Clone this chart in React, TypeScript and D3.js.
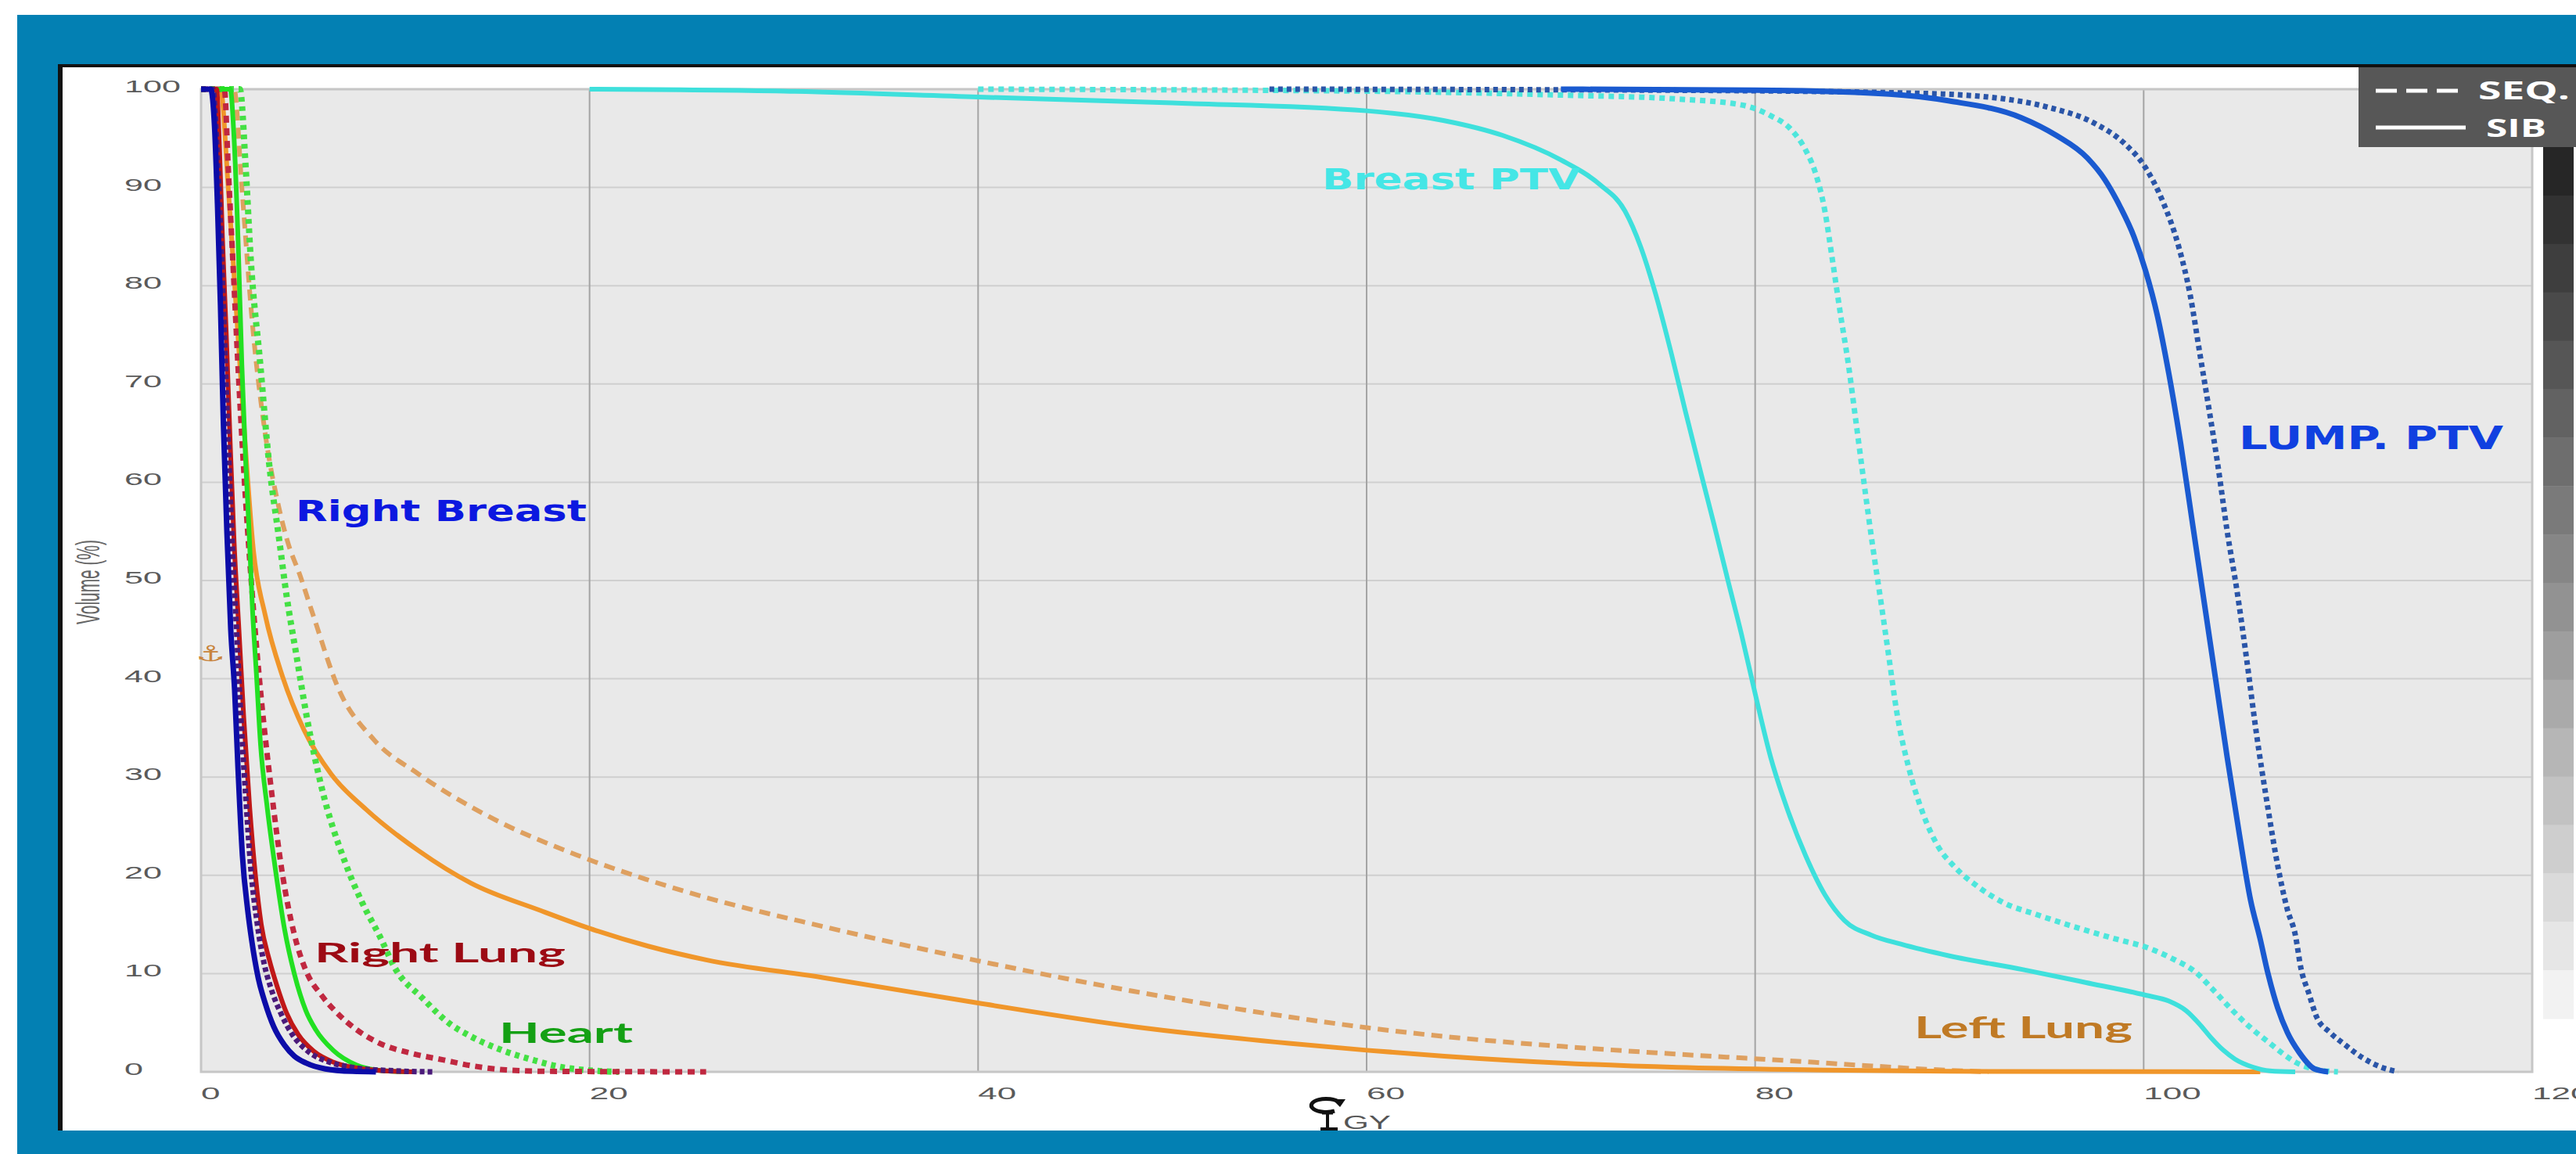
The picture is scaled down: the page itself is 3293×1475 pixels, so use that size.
import React from 'react'
import * as d3 from 'd3'

// dose (Gy) / volume (%) pairs
const breastPtvSib = [[20,100],[30,99.8],[40,99.2],[50,98.6],[60,97.8],[64,96.8],[67,95.3],[70,92.8],[72,90.3],[73.3,87.6],[74.1,84],[74.9,79],[75.7,73],[76.4,67.3],[77.2,61],[77.9,55.6],[78.6,50],[79.3,44.5],[80,38.5],[80.8,32],[81.7,26.5],[82.6,22],[83.6,18],[84.6,15.4],[86,13.9],[87.5,13],[90,11.8],[93.8,10.4],[97,9.1],[100.1,7.8],[101.3,7.2],[102.2,6.2],[102.9,4.8],[103.5,3.4],[104.1,2.2],[104.7,1.3],[105.6,0.5],[106.5,0.1],[107.8,0]]
const breastPtvSeq = [[40,100],[60,99.8],[70,99.4],[76,99],[79.3,98.4],[80.8,97.3],[81.8,96],[82.6,93.8],[83.1,91.5],[83.6,87.5],[83.95,83],[84.4,77],[84.8,72],[85.2,66],[85.6,60],[86.05,53.5],[86.5,47.5],[86.9,42],[87.3,36.5],[87.9,31],[88.6,26.5],[89.4,23],[90.3,20.8],[91.5,18.8],[92.8,17.2],[94.5,16],[96.2,14.9],[98.6,13.5],[100.1,12.7],[101.4,11.6],[102.7,10.1],[103.6,8.3],[104.5,6.4],[105.5,4.5],[106.5,2.9],[107.2,1.8],[107.8,1],[109,0.2],[110,0]]
const lumpPtvSib = [[70,100],[80,99.9],[86.9,99.5],[90,98.8],[93.7,97.1],[95.5,95.3],[97.1,93],[98,90.8],[98.8,88],[99.5,85],[100.1,81.5],[100.7,77],[101.3,71],[101.9,64],[102.5,56],[103.1,48],[103.7,40],[104.3,32],[104.9,24.5],[105.5,17.5],[106,13.5],[106.4,10],[106.9,6.5],[107.4,4],[108,2],[108.8,0.3],[109.5,0]]
const lumpPtvSeq = [[55,100],[75,99.9],[88,99.6],[92,99.2],[95,98.2],[97.5,96.5],[99,94.5],[100.1,92],[101,88.5],[101.8,84],[102.4,79],[102.9,73],[103.4,67],[103.8,62],[104.3,55],[104.8,49],[105.3,42],[105.8,34.5],[106.4,26.8],[106.9,21],[107.4,16.5],[107.8,14],[108.1,10.5],[108.5,8],[108.9,5.6],[109.6,4],[110.4,2.7],[111.3,1.4],[112.2,0.5],[113.1,0]]
const rightBreastSib = [[0,100],[0.5,100],[0.7,96],[0.85,88],[1,78],[1.15,66],[1.33,55],[1.53,45],[1.73,38.8],[1.9,31],[2.13,22],[2.4,16.5],[2.6,13.5],[2.94,9.6],[3.3,7],[3.74,4.6],[4.3,2.7],[4.8,1.6],[5.4,0.9],[6.4,0.3],[7.8,0.05],[9,0]]
const rightBreastSeq = [[0,100],[0.6,100],[0.8,95],[1,86],[1.2,75],[1.4,64],[1.6,54],[1.85,44],[2.05,36],[2.3,28],[2.55,21],[2.9,15],[3.25,11],[3.6,8.5],[4.1,6],[4.7,3.8],[5.5,2.1],[6.6,1],[8,0.4],[10,0.1],[12,0]]
const rightLungSib = [[0,100],[0.8,100],[0.95,94],[1.1,85],[1.3,75],[1.5,64],[1.7,54],[1.95,45],[2.2,36],[2.5,27],[2.8,20],[3.1,15],[3.5,11.5],[3.9,8.8],[4.4,6],[5,3.8],[5.8,2.1],[6.8,1],[8,0.4],[9.5,0.1],[11,0]]
const rightLungSeq = [[0,100],[1.2,100],[1.4,92],[1.65,82],[1.95,70],[2.3,58],[2.7,47],[3.1,38],[3.6,29],[4.2,20],[4.8,14],[5.4,10.3],[6.2,7.8],[7,6],[8,4.3],[9.2,2.9],[10.8,1.9],[12.5,1.2],[14,0.6],[15.7,0.2],[18,0.05],[26,0]]
const heartSib = [[0,100],[1.5,100],[1.7,95],[1.9,85],[2.1,72],[2.3,62],[2.45,56],[2.65,47],[2.85,40.5],[3.06,33.4],[3.4,27],[3.8,21],[4.3,14.5],[4.8,10],[5.4,6.2],[5.9,4.3],[6.8,2.2],[8,0.7],[9,0.2],[10.5,0]]
const heartSeq = [[0,100],[2,100],[2.3,92],[2.55,83],[3.05,72],[3.5,62],[4,54.5],[4.4,48.5],[4.9,42.5],[5.5,35.5],[6.2,29],[7.4,21.4],[8.3,17.2],[9.2,13.8],[10,10.5],[11.4,7.5],[12.8,4.9],[13.9,3.6],[15.5,2.2],[17.1,1.2],[18.5,0.5],[20,0.15],[21.5,0]]
const leftLungSib = [[0,100],[1,100],[1.4,90],[1.8,78],[2.2,66],[2.7,53],[3.3,46.5],[4.2,40.2],[5.3,34.8],[6.7,30.3],[8.5,26.7],[11.2,22.5],[13.9,19.2],[17.5,16.4],[20,14.6],[23,12.8],[26,11.4],[32,9.6],[40,7],[48,4.6],[56,2.9],[60,2.2],[64,1.6],[70,0.9],[76,0.45],[83,0.2],[90,0.05],[106,0]]
const leftLungSeq = [[0,100],[1.7,100],[2.1,90],[2.65,76],[3.3,65],[4,57.5],[4.45,54],[5.1,50.5],[5.8,46.3],[7.05,39.1],[8.9,33.8],[11.2,30.3],[14.8,26],[19.3,22.1],[22.9,19.6],[25.9,17.8],[32,14.8],[40,11.3],[48,8.2],[56,5.6],[60,4.5],[64,3.6],[70,2.6],[76,1.8],[82,1.1],[86,0.6],[89,0.25],[92,0]]

const xTicks = [0, 20, 40, 60, 80, 100, 120]
const yTicks = [0, 10, 20, 30, 40, 50, 60, 70, 80, 90, 100]

const W = 3293
const H = 1475

const series = [
  { data: leftLungSeq, color: '#dea060', width: 6, dash: '14 9' },
  { data: leftLungSib, color: '#f0962a', width: 6, dash: '' },
  { data: heartSeq, color: '#44e044', width: 8, dash: '6 6' },
  { data: rightLungSeq, color: '#c02840', width: 7, dash: '9 7' },
  { data: heartSib, color: '#22e022', width: 6, dash: '' },
  { data: rightLungSib, color: '#c01818', width: 6, dash: '' },
  { data: rightBreastSeq, color: '#4a1a7a', width: 7, dash: '6 4' },
  { data: rightBreastSib, color: '#0c0ca8', width: 7, dash: '' },
  { data: breastPtvSeq, color: '#4ee6dc', width: 7, dash: '7 6' },
  { data: breastPtvSib, color: '#3ee0dc', width: 6, dash: '' },
  { data: lumpPtvSeq, color: '#2a55a8', width: 7, dash: '6 5' },
  { data: lumpPtvSib, color: '#1a5ad0', width: 7, dash: '' },
]

const labels = [
  { text: 'Right Breast', x: 378, y: 666, len: 372, size: 38, color: '#0c18e0', font: 'DejaVu Sans' },
  { text: 'Right Lung', x: 402, y: 1230, len: 321, size: 35, color: '#9c0a14', font: 'Lato' },
  { text: 'Heart', x: 638, y: 1333, len: 171, size: 36, color: '#14a014', font: 'Lato' },
  { text: 'Left Lung', x: 2447, y: 1327, len: 279, size: 38, color: '#c07a25', font: 'Lato' },
  { text: 'Breast PTV', x: 1690, y: 242, len: 330, size: 38, color: '#44e6e6', font: 'DejaVu Sans' },
  { text: 'LUMP. PTV', x: 2862, y: 574, len: 338, size: 40, color: '#1040e0', font: 'DejaVu Sans' },
]

export default function App() {
  const x = d3.scaleLinear().domain([0, 120]).range([257, 3237])
  const y = d3.scaleLinear().domain([0, 100]).range([1370, 114])
  const line = d3.line<number[]>().x(d => x(d[0])).y(d => y(d[1])).curve(d3.curveMonotoneX)

  const steps = d3.range(18)
  const shade = d3.scaleLinear<string>().domain([0, 17]).range(['#262626', '#f2f2f2'])
  const stepH = (1302 - 188) / steps.length

  return (
    <div style={{ position: 'absolute', left: 0, top: 0 }}>
      <svg width={W} height={H} style={{ display: 'block' }}>
        <defs>
          <clipPath id="plot">
            <rect x={x(0) - 2} y={y(100) - 4} width={x(120) - x(0) + 4} height={y(0) - y(100) + 8} />
          </clipPath>
        </defs>
        <rect width={W} height={H} fill="#fff" />
        <rect x={22} y={19} width={W - 22} height={H - 19} fill="#0380b3" />
        <rect x={74} y={82} width={W - 74} height={1445 - 82} fill="#fff" />
        <rect x={74} y={82} width={W - 74} height={4} fill="#111" />
        <rect x={74} y={82} width={6} height={1445 - 82} fill="#111" />

        <rect x={x(0)} y={y(100)} width={x(120) - x(0)} height={y(0) - y(100)} fill="#e9e9e9" />
        {yTicks.map(t => (
          <line key={'gy' + t} x1={x(0)} x2={x(120)} y1={y(t)} y2={y(t)} stroke="#cfcfcf" strokeWidth={2} />
        ))}
        {xTicks.filter(t => t > 0 && t < 120).map(t => (
          <line key={'gx' + t} x1={x(t)} x2={x(t)} y1={y(100)} y2={y(0)} stroke="#a4a4a4" strokeWidth={2} />
        ))}
        <rect x={x(0)} y={y(100)} width={x(120) - x(0)} height={y(0) - y(100)} fill="none" stroke="#c6c6c6" strokeWidth={3} />

        {yTicks.map(t => (
          <text key={'ly' + t} x={159} y={y(t) + 4} fontFamily="Liberation Sans" fontSize={22} fill="#5a5a5a"
            textLength={String(t).length * 24} lengthAdjust="spacingAndGlyphs">{t}</text>
        ))}
        {xTicks.map(t => (
          <text key={'lx' + t} x={x(t)} y={1405} fontFamily="Liberation Sans" fontSize={22} fill="#5a5a5a"
            textLength={String(t).length * 24.5} lengthAdjust="spacingAndGlyphs">{t}</text>
        ))}

        <g transform="translate(112,744) scale(2,1) rotate(-90)">
          <text x={0} y={0} textAnchor="middle" dominantBaseline="central" fontFamily="Liberation Sans" fontSize={21}
            fill="#666" textLength={108} lengthAdjust="spacingAndGlyphs">Volume (%)</text>
        </g>

        <g clipPath="url(#plot)">
          {series.map((s, i) => (
            <path key={i} d={line(s.data) || ''} fill="none" stroke={s.color} strokeWidth={s.width}
              strokeDasharray={s.dash || undefined} strokeLinejoin="round" />
          ))}
        </g>

        {labels.map(l => (
          <text key={l.text} x={l.x} y={l.y} fontFamily={l.font} fontWeight="bold" fontSize={l.size} fill={l.color}
            textLength={l.len} lengthAdjust="spacingAndGlyphs">{l.text}</text>
        ))}

        <text x={269} y={845} textAnchor="middle" fontFamily="DejaVu Sans" fontSize={28} fill="#c8843c"
          textLength={38} lengthAdjust="spacingAndGlyphs">⚓</text>

        {/* rotate / axis icon next to the GY label */}
        <path d="M1712,1409 A19,8.5 0 1,0 1706,1420" fill="none" stroke="#111" strokeWidth={5} />
        <path d="M1703,1405 L1720,1405 L1713,1415 Z" fill="#111" />
        <line x1={1697} x2={1697} y1={1421} y2={1445} stroke="#111" strokeWidth={4} />
        <line x1={1690} x2={1704} y1={1423} y2={1423} stroke="#111" strokeWidth={3} />
        <line x1={1688} x2={1710} y1={1443} y2={1443} stroke="#111" strokeWidth={4} />
        <text x={1717} y={1443} fontFamily="Liberation Sans" fontSize={23} fill="#555"
          textLength={61} lengthAdjust="spacingAndGlyphs">GY</text>

        {steps.map(i => (
          <rect key={'cb' + i} x={3251} y={188 + i * stepH} width={39} height={stepH + 0.5} fill={shade(i)} />
        ))}

        <rect x={3015} y={86} width={W - 3015} height={102} fill="#575757" />
        <line x1={3037} x2={3142} y1={116} y2={116} stroke="#fff" strokeWidth={5} strokeDasharray="27 12" />
        <line x1={3037} x2={3152} y1={163} y2={163} stroke="#fff" strokeWidth={5} />
        <text x={3168} y={127} fontFamily="Open Sans" fontWeight="bold" fontSize={32} fill="#fff"
          textLength={117} lengthAdjust="spacingAndGlyphs">SEQ.</text>
        <text x={3178} y={175} fontFamily="Open Sans" fontWeight="bold" fontSize={32} fill="#fff"
          textLength={77} lengthAdjust="spacingAndGlyphs">SIB</text>
      </svg>
    </div>
  )
}
